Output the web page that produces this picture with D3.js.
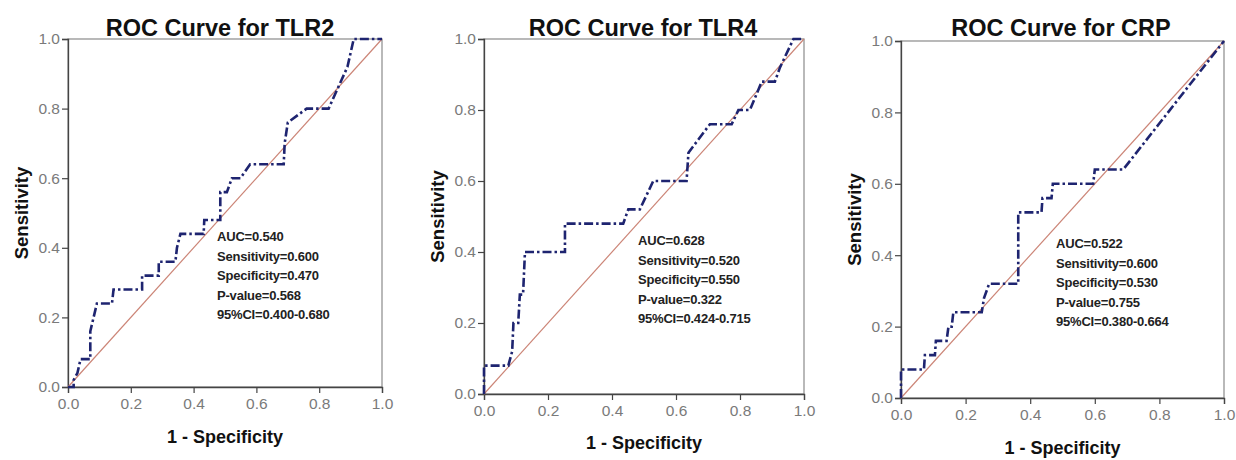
<!DOCTYPE html>
<html>
<head>
<meta charset="utf-8">
<script src="https://cdn.jsdelivr.net/npm/d3@7"></script>
<style>
  body { margin: 0; background: #fff; }
  svg { display: block; }
  text { font-family: "Liberation Sans", Arial, sans-serif; }
</style>
</head>
<body>
<svg id="chart" width="1236" height="460"></svg>
<script>
// ROC points: [1 - specificity, sensitivity]
const tlr2Points = [[0,0],[0.018,0],[0.018,0.02],[0.03,0.04],[0.04,0.08],[0.071,0.08],[0.071,0.16],
  [0.092,0.24],[0.14,0.24],[0.145,0.28],[0.236,0.28],[0.236,0.32],[0.289,0.32],[0.289,0.36],[0.342,0.36],
  [0.347,0.40],[0.358,0.44],[0.432,0.44],[0.434,0.48],[0.485,0.48],[0.485,0.56],[0.506,0.56],[0.522,0.60],
  [0.549,0.60],[0.58,0.64],[0.687,0.64],[0.69,0.70],[0.70,0.76],[0.76,0.80],[0.83,0.80],[0.87,0.88],
  [0.89,0.92],[0.91,1.0],[1,1]];
const tlr4Points = [[0,0],[0,0.08],[0.076,0.08],[0.088,0.12],[0.092,0.20],[0.107,0.20],[0.112,0.28],
  [0.122,0.28],[0.128,0.40],[0.253,0.40],[0.253,0.48],[0.435,0.48],[0.451,0.52],[0.487,0.52],[0.529,0.60],
  [0.633,0.60],[0.639,0.68],[0.706,0.76],[0.774,0.76],[0.795,0.80],[0.831,0.80],[0.868,0.88],[0.909,0.88],
  [0.925,0.92],[0.967,1.0],[1,1]];
const crpPoints = [[0,0],[0,0.08],[0.071,0.08],[0.074,0.12],[0.105,0.12],[0.108,0.16],[0.141,0.16],
  [0.147,0.20],[0.157,0.20],[0.162,0.24],[0.25,0.24],[0.257,0.28],[0.273,0.32],[0.363,0.32],[0.363,0.52],
  [0.435,0.52],[0.438,0.56],[0.466,0.56],[0.47,0.60],[0.595,0.60],[0.60,0.64],[0.688,0.64],[1,1]];

const titles = ["ROC Curve for TLR2", "ROC Curve for TLR4", "ROC Curve for CRP"];
const statLines = [
  ["AUC=0.540", "Sensitivity=0.600", "Specificity=0.470", "P-value=0.568", "95%CI=0.400-0.680"],
  ["AUC=0.628", "Sensitivity=0.520", "Specificity=0.550", "P-value=0.322", "95%CI=0.424-0.715"],
  ["AUC=0.522", "Sensitivity=0.600", "Specificity=0.530", "P-value=0.755", "95%CI=0.380-0.664"]
];
const tickValues = [0, 0.2, 0.4, 0.6, 0.8, 1.0];
const allPoints = [tlr2Points, tlr4Points, crpPoints];

// panel boxes (plot area)
const panels = [
  {x0: 68,  x1: 382,  y0: 39, y1: 387, titleX: 220,  statX: 217,  statY: 241, yLab: 22,  xLabY: 443},
  {x0: 484, x1: 804,  y0: 39, y1: 394, titleX: 643,  statX: 638,  statY: 245, yLab: 438, xLabY: 449},
  {x0: 901, x1: 1224, y0: 41, y1: 398, titleX: 1061, statX: 1056, statY: 248, yLab: 855, xLabY: 454}
];

const svg = d3.select("#chart");

panels.forEach((p, i) => {
  const x = d3.scaleLinear().domain([0, 1]).range([p.x0, p.x1]);
  const y = d3.scaleLinear().domain([0, 1]).range([p.y1, p.y0]);
  const g = svg.append("g");

  // frame
  g.append("rect")
    .attr("x", p.x0).attr("y", p.y0)
    .attr("width", p.x1 - p.x0).attr("height", p.y1 - p.y0)
    .attr("fill", "none").attr("stroke", "#8a8a8a").attr("stroke-width", 1.2);

  const xAxis = g.append("g")
    .attr("transform", `translate(0,${p.y1})`)
    .call(d3.axisBottom(x).tickValues(tickValues).tickFormat(d3.format(".1f")).tickSize(6).tickPadding(5));
  const yAxis = g.append("g")
    .attr("transform", `translate(${p.x0},0)`)
    .call(d3.axisLeft(y).tickValues(tickValues).tickFormat(d3.format(".1f")).tickSize(6).tickPadding(2));
  [xAxis, yAxis].forEach(a => {
    a.select(".domain").attr("stroke", "#444").attr("stroke-width", 1.3);
    a.selectAll(".tick line").attr("stroke", "#444").attr("stroke-width", 1.2);
    a.selectAll(".tick text").attr("fill", "#7a7a7a").style("font-size", "15.5px")
      .style("font-family", "'Liberation Sans', Arial, sans-serif");
  });

  // reference diagonal
  g.append("line")
    .attr("x1", x(0)).attr("y1", y(0)).attr("x2", x(1)).attr("y2", y(1))
    .attr("stroke", "#cc8577").attr("stroke-width", 1.2);

  // roc curve
  const line = d3.line().x(d => x(d[0])).y(d => y(d[1]));
  g.append("path")
    .datum(allPoints[i])
    .attr("d", line)
    .attr("fill", "none")
    .attr("stroke", "#1e2470")
    .attr("stroke-width", 2.6)
    .attr("stroke-dasharray", "9,3,2.5,3");

  // title
  g.append("text")
    .attr("x", p.titleX).attr("y", 36)
    .attr("text-anchor", "middle")
    .style("font-size", "23.5px").style("font-weight", "bold")
    .attr("fill", "#111")
    .text(titles[i]);

  // axis titles
  g.append("text")
    .attr("x", (p.x0 + p.x1) / 2).attr("y", p.xLabY)
    .attr("text-anchor", "middle")
    .style("font-size", "18px").style("font-weight", "bold")
    .attr("fill", "#111")
    .text("1 - Specificity");
  g.append("text")
    .attr("transform", `translate(${p.yLab + 6},${(p.y0 + p.y1) / 2}) rotate(-90)`)
    .attr("text-anchor", "middle")
    .style("font-size", "18.5px").style("font-weight", "bold")
    .attr("fill", "#111")
    .text("Sensitivity");

  // stats block
  g.append("g").selectAll("text")
    .data(statLines[i])
    .join("text")
    .attr("x", p.statX)
    .attr("y", (d, k) => p.statY + k * 19.5)
    .style("font-size", "13px").style("font-weight", "bold")
    .style("letter-spacing", "-0.2px")
    .attr("fill", "#222")
    .text(d => d);
});
</script>
</body>
</html>
